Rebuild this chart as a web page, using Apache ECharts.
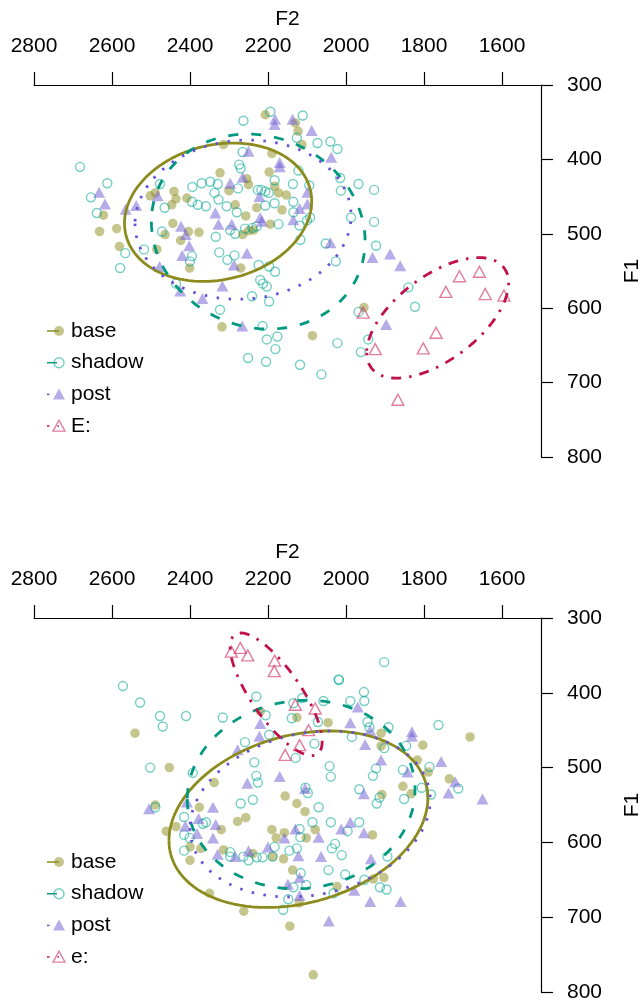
<!DOCTYPE html>
<html>
<head>
<meta charset="utf-8">
<script src="https://cdn.jsdelivr.net/npm/echarts@6/dist/echarts.min.js"></script>
<style>
  html, body { margin: 0; padding: 0; background: #fff; }
  #chart { width: 643px; height: 1000px; }
</style>
</head>
<body>
<div id="chart"></div>
<script>
const FONT = '"Liberation Sans", Arial, Helvetica, sans-serif';
const FS = 21;

// F2 tick labels (axis runs right-to-left)
const f2Ticks = [2800, 2600, 2400, 2200, 2000, 1800, 1600];

// legend labels
const topNames = ["base", "shadow", "post", "E:"];
const bottomNames = ["base", "shadow", "post", "e:"];

// ---- upper panel tokens [F2, F1] ----
const topBase = [
  [2632,497],[2622,475],[2588,493],[2581,517],[2485,521],[2502,449],[2489,445],[2441,443],
  [2436,453],[2447,461],[2408,452],[2444,486],[2464,501],[2424,509],[2404,497],[2377,498],
  [2401,546],[2323,418],[2314,380],[2300,442],[2284,461],[2257,476],[2254,426],[2250,434],
  [2229,465],[2197,417],[2190,392],[2183,436],[2173,445],[2153,448],[2164,468],[2194,487],
  [2237,495],[2250,496],[2265,501],[2270,546],[2207,340],[2130,351],[2123,362],[2113,380],
  [2318,625],[2086,637],[1954,599]
];
const topShadow = [
  [2682,410],[2612,432],[2654,451],[2639,472],[2579,546],[2566,526],[2518,521],[2472,497],
  [2465,465],[2477,433],[2394,437],[2370,432],[2348,430],[2329,433],[2337,445],[2327,454],
  [2306,463],[2280,471],[2277,439],[2274,407],[2270,412],[2265,390],[2263,348],[2226,441],
  [2217,441],[2207,443],[2198,445],[2183,428],[2183,459],[2207,462],[2173,487],[2135,457],
  [2136,433],[2122,415],[2126,371],[2111,341],[2194,336],[2073,378],[2040,376],[2022,386],
  [2015,425],[2013,442],[2094,435],[2092,478],[2100,482],[2119,489],[2135,471],[2117,508],
  [2052,513],[2026,537],[1987,478],[1968,433],[2229,490],[2240,492],[2259,493],[2284,500],
  [2297,495],[2334,504],[2325,525],[2304,535],[2286,529],[2224,542],[2197,544],[2182,551],
  [2220,562],[2213,567],[2203,571],[2241,584],[2197,591],[2323,602],[2436,567],[2395,530],
  [2400,537],[2395,457],[2380,461],[2359,463],[2214,624],[2203,642],[2176,638],[2181,655],
  [2022,647],[1928,441],[1928,484],[1923,516],[1840,572],[1823,598],[1968,605],[1943,642],
  [1962,659],[2063,689],[2118,676],[2251,667],[2205,672]
];
const topPost = [
  [2633,444],[2618,460],[2565,467],[2538,462],[2483,449],[2478,544],[2425,577],[2368,587],
  [2317,570],[2266,624],[2254,526],[2287,542],[2423,490],[2411,501],[2402,516],[2420,529],
  [2335,472],[2327,487],[2293,487],[2297,432],[2265,424],[2222,450],[2220,478],[2216,483],
  [2170,404],[2170,410],[2182,346],[2183,353],[2137,346],[2088,361],[2250,389],[2135,481],
  [2099,444],[2099,460],[2119,466],[2040,512],[2038,397],[1887,527],[1932,532],[1861,543],
  [1897,622]
];
const topVowel = [
  [1956,606],[1925,655],[1802,654],[1769,633],[1744,578],[1709,557],[1658,551],[1643,581],
  [1595,583],[1867,723]
];

// ---- lower panel tokens [F2, F1] ----
const bottomBase = [
  [2541,454],[2453,500],[2338,520],[2489,550],[2376,553],[2461,585],[2436,579],[2320,583],
  [2278,572],[2257,567],[2190,583],[2179,594],[2156,538],[2126,548],[2105,559],[2079,583],
  [2102,594],[2158,587],[2314,610],[2372,608],[2400,606],[2400,624],[2239,615],[2188,619],
  [2160,622],[2137,637],[2220,425],[2126,433],[2046,440],[2023,659],[2350,668],[1910,454],
  [1910,471],[1803,470],[1682,459],[1817,490],[1789,506],[1735,515],[1854,525],[1833,535],
  [1908,536],[1932,590],[2262,692],[2144,712],[2084,777],[2120,681],[1930,649],[1903,647]
];
const bottomShadow = [
  [2572,391],[2528,413],[2477,431],[2470,445],[2410,431],[2316,433],[2502,500],[2393,507],
  [2489,553],[2415,566],[2415,590],[2415,611],[2401,594],[2367,575],[2359,573],[2297,613],
  [2297,619],[2263,619],[2250,624],[2229,620],[2214,620],[2188,619],[2183,606],[2270,548],
  [2239,543],[2226,520],[2230,511],[2235,493],[2259,466],[2197,456],[2206,430],[2230,405],
  [2139,434],[2135,414],[2112,407],[2058,411],[2018,383],[2081,468],[2129,487],[2042,498],
  [2039,512],[2104,527],[2098,534],[2070,553],[2086,573],[2039,573],[2119,582],[2117,593],
  [2145,611],[2126,608],[2028,602],[2036,608],[2011,617],[2002,643],[2045,637],[2116,641],
  [2102,657],[2032,668],[2135,660],[1902,359],[2019,382],[1954,399],[1953,411],[1989,411],
  [2072,439],[1945,439],[1940,446],[1985,459],[1891,446],[1763,443],[1846,471],[1902,474],
  [1854,503],[1786,499],[1782,536],[1806,527],[1712,528],[1851,542],[1921,548],[1914,540],
  [1923,501],[1931,511],[1966,529],[1996,585],[1966,573],[1894,619],[2161,690],[2148,676],
  [1913,660],[1896,663],[1953,650]
];
const bottomPost = [
  [2505,555],[2408,546],[2341,553],[2412,578],[2378,568],[2382,588],[2334,576],[2341,594],
  [2329,616],[2284,619],[2250,611],[2220,441],[2222,458],[2278,476],[2253,521],[2170,512],
  [2200,606],[2158,594],[2130,582],[2122,618],[2105,528],[2070,593],[2012,582],[2149,656],
  [2119,647],[2119,671],[2064,619],[1989,440],[1970,419],[1938,450],[1951,469],[1910,490],
  [1831,452],[1831,458],[1842,506],[1756,492],[1720,519],[1737,534],[1650,542],[1954,535],
  [1989,573],[1954,587],[1936,622],[2044,705],[1938,679],[1860,679],[1979,664]
];
const bottomVowel = [
  [2294,345],[2271,340],[2252,350],[2183,357],[2184,371],[2130,416],[2079,421],[2096,450],
  [2119,470],[2156,483]
];

// ellipses: [centre F2, centre F1, half-range F2, half-range F1, correlation]
const topBaseEll = [2328, 471, 240, 93, 0.16];
const topShadowEll = [2225, 497, 274, 131, -0.10];
const topPostEll = [2264, 481, 277, 107, 0.05];
const topVowelEll = [1765, 613, 182, 81, 0.58];
const bottomBaseEll = [2122, 569, 332, 118, 0.24];
const bottomShadowEll = [2115, 536, 292, 126, 0.05];
const bottomPostEll = [2092, 562, 308, 111, 0.17];
const bottomVowelEll = [2179, 402, 118, 82, -0.77];

const styles = [
  { point: "rgba(140,140,30,0.5)", line: "#8c8c1e", symbol: "circle", filled: true, size: 9.5, dash: "solid" },
  { point: "rgba(0,165,145,0.55)", line: "#00997f", symbol: "circle", filled: false, size: 9, dash: [10, 13] },
  { point: "rgba(110,90,210,0.5)", line: "#6650d8", symbol: "triangle", filled: true, size: [12, 11], dash: [2.5, 9.5] },
  { point: "rgba(205,40,95,0.6)", line: "#c0104e", symbol: "triangle", filled: false, size: [12, 11], dash: [2.5, 8, 10, 8] }
];

function ellipsePath(p) {
  const [c2, c1, r2, r1, rho] = p;
  const pts = [];
  const s = Math.sqrt(1 - rho * rho);
  for (let i = 0; i <= 120; i++) {
    const t = (i / 120) * Math.PI * 2;
    pts.push([c2 + r2 * Math.cos(t), c1 + r1 * (rho * Math.cos(t) + s * Math.sin(t))]);
  }
  return pts;
}

function scatter(name, data, st, gi) {
  return {
    type: "scatter", name: name, data: data,
    xAxisIndex: gi, yAxisIndex: gi,
    symbol: st.symbol, symbolSize: st.size,
    itemStyle: st.filled
      ? { color: st.point, opacity: 1 }
      : { color: "rgba(0,0,0,0)", borderColor: st.point, borderWidth: 1.4, opacity: 1 },
    silent: true, z: 2
  };
}

function ellipse(name, p, st, gi) {
  return {
    type: "line", name: name + " ellipse", data: ellipsePath(p),
    xAxisIndex: gi, yAxisIndex: gi,
    showSymbol: false, symbol: "none", silent: true, z: 3,
    lineStyle: { color: st.line, width: 2.8, type: st.dash }
  };
}

function xAxis(gi) {
  return {
    type: "value", gridIndex: gi, position: "top", inverse: true,
    min: 1500, max: 2800,
    name: "F2", nameLocation: "middle", nameGap: 55,
    nameTextStyle: { fontSize: FS, color: "#000", fontFamily: FONT },
    axisLine: { show: true, onZero: false, lineStyle: { color: "#000", width: 1.2 } },
    axisTick: { show: true, length: 13, customValues: f2Ticks, lineStyle: { color: "#000", width: 1.2 } },
    axisLabel: {
      customValues: f2Ticks, fontSize: FS, color: "#000", fontFamily: FONT, margin: 28,
      formatter: (v) => String(v)
    },
    splitLine: { show: false }
  };
}

function yAxis(gi) {
  return {
    type: "value", gridIndex: gi, position: "right", inverse: true,
    min: 300, max: 800, interval: 100,
    name: "F1", nameLocation: "middle", nameGap: 81, nameRotate: 90,
    nameTextStyle: { fontSize: FS, color: "#000", fontFamily: FONT },
    axisLine: { show: true, onZero: false, lineStyle: { color: "#000", width: 1.2 } },
    axisTick: { show: true, length: 12, lineStyle: { color: "#000", width: 1.2 } },
    axisLabel: { fontSize: FS, color: "#000", fontFamily: FONT, margin: 26 },
    splitLine: { show: false }
  };
}

function legendItems(names, y0) {
  const els = [];
  names.forEach((nm, i) => {
    const st = styles[i];
    const y = y0 + i * 31.7;
    els.push({
      type: "line", shape: { x1: 47, y1: y, x2: 59, y2: y },
      style: { stroke: st.line, lineWidth: 1.5, lineDash: st.dash === "solid" ? null : st.dash }
    });
    if (st.symbol === "circle") {
      els.push({
        type: "circle", shape: { cx: 59, cy: y, r: 5 },
        style: st.filled ? { fill: st.point } : { fill: "none", stroke: st.point, lineWidth: 1.4 }
      });
    } else {
      els.push({
        type: "polygon", shape: { points: [[53, y + 5], [65, y + 5], [59, y - 6]] },
        style: st.filled ? { fill: st.point } : { fill: "none", stroke: st.point, lineWidth: 1.4 }
      });
    }
    els.push({
      type: "text", x: 71, y: y,
      style: { text: nm, font: FS + "px " + FONT, fill: "#000", verticalAlign: "middle", align: "left" }
    });
  });
  return els;
}

const chart = echarts.init(document.getElementById("chart"), null, { renderer: "canvas" });

chart.setOption({
  animation: false,
  backgroundColor: "#fff",
  grid: [
    { left: 34, width: 507, top: 85, height: 372, outerBoundsMode: "none" },
    { left: 34, width: 507, top: 618, height: 374, outerBoundsMode: "none" }
  ],
  xAxis: [xAxis(0), xAxis(1)],
  yAxis: [yAxis(0), yAxis(1)],
  series: [
    scatter("base", topBase, styles[0], 0),
    scatter("shadow", topShadow, styles[1], 0),
    scatter("post", topPost, styles[2], 0),
    scatter("E:", topVowel, styles[3], 0),
    ellipse("base", topBaseEll, styles[0], 0),
    ellipse("shadow", topShadowEll, styles[1], 0),
    ellipse("post", topPostEll, styles[2], 0),
    ellipse("E:", topVowelEll, styles[3], 0),
    scatter("base", bottomBase, styles[0], 1),
    scatter("shadow", bottomShadow, styles[1], 1),
    scatter("post", bottomPost, styles[2], 1),
    scatter("e:", bottomVowel, styles[3], 1),
    ellipse("base", bottomBaseEll, styles[0], 1),
    ellipse("shadow", bottomShadowEll, styles[1], 1),
    ellipse("post", bottomPostEll, styles[2], 1),
    ellipse("e:", bottomVowelEll, styles[3], 1)
  ],
  graphic: { elements: legendItems(topNames, 331).concat(legendItems(bottomNames, 862)) }
});
</script>
</body>
</html>
